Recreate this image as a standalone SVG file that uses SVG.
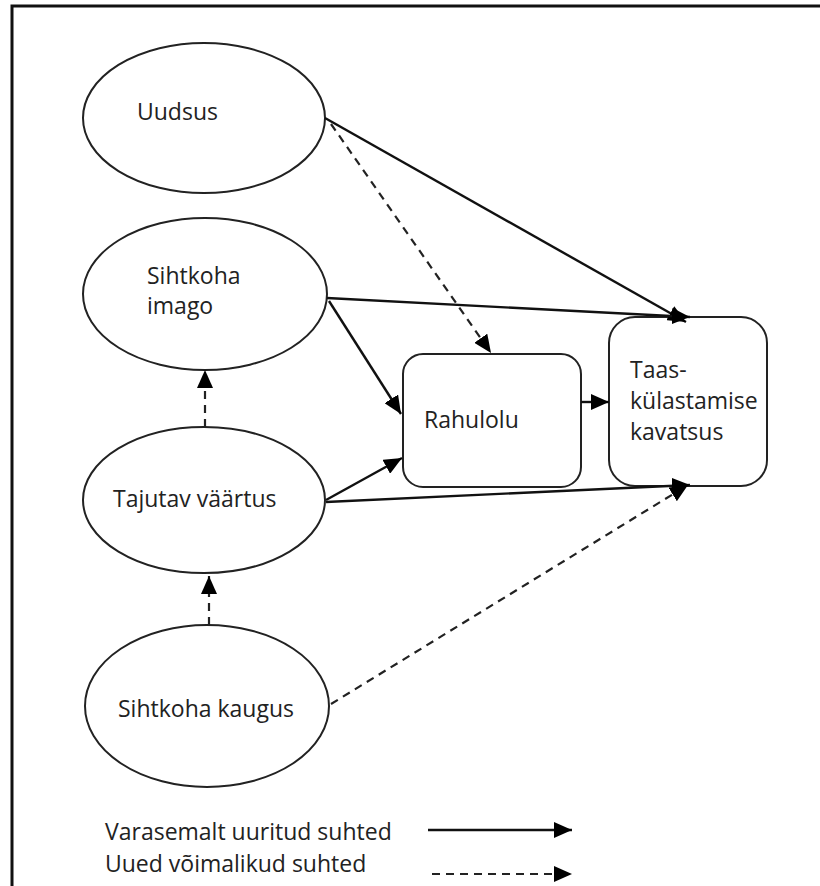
<svg xmlns="http://www.w3.org/2000/svg" width="820" height="886" viewBox="0 0 820 886">
<style>
text{font-family:"Open Sans","Liberation Sans",sans-serif;font-size:23px;fill:#222}
.node{fill:#fff;stroke:#222;stroke-width:2}
.solid{stroke:#111;stroke-width:2.4;fill:none;marker-end:url(#ah)}
.dash{stroke:#222;stroke-width:2.2;fill:none;stroke-dasharray:8 6;marker-end:url(#ah)}
</style>
<defs>
<marker id="ah" markerUnits="userSpaceOnUse" markerWidth="20" markerHeight="16" refX="18" refY="8" orient="auto">
<path d="M0,0 L18,8 L0,16 Z" fill="#000"/>
</marker>
</defs>
<rect x="0" y="0" width="820" height="886" fill="#fff"/>
<path d="M12,886 V6 H820" fill="none" stroke="#111" stroke-width="3"/>
<g id="uudsus"><ellipse class="node" cx="204" cy="118" rx="121" ry="75"/><text x="137" y="120">Uudsus</text></g>
<g id="imago"><ellipse class="node" cx="205" cy="294" rx="122" ry="76"/><text x="147" y="284">Sihtkoha</text><text x="147" y="314">imago</text></g>
<g id="vaartus"><ellipse class="node" cx="204" cy="500" rx="121" ry="73"/><text x="113" y="507">Tajutav väärtus</text></g>
<g id="kaugus"><ellipse class="node" cx="207" cy="706" rx="122" ry="81"/><text x="118" y="717">Sihtkoha kaugus</text></g>
<g id="rahulolu"><rect class="node" x="403" y="354" width="178" height="133" rx="20"/><text x="424" y="428">Rahulolu</text></g>
<g id="taas"><rect class="node" x="609" y="317" width="158" height="169" rx="26"/><text x="630" y="378">Taas-</text><text x="630" y="409">külastamise</text><text x="630" y="440">kavatsus</text></g>
<g id="connectors">
<path class="solid" d="M325,118 L686,322"/>
<path class="dash" d="M331,124 L491,353"/>
<path class="solid" d="M327,298 L690,317"/>
<path class="solid" d="M329,301 L401,414"/>
<path class="solid" d="M326,500 L402,458"/>
<path class="solid" d="M326,502 L690,485"/>
<path class="dash" d="M331,704 L688,485"/>
<path class="solid" d="M581,402 L609,402"/>
<path class="dash" d="M205,427 L205,370"/>
<path class="dash" d="M209,625 L209,576"/>
</g>
<g id="legend">
<text x="105" y="840">Varasemalt uuritud suhted</text>
<text x="105" y="872">Uued võimalikud suhted</text>
<path class="solid" d="M428,830 L572,830"/>
<path class="dash" d="M432,874 L572,874"/>
</g>
</svg>
